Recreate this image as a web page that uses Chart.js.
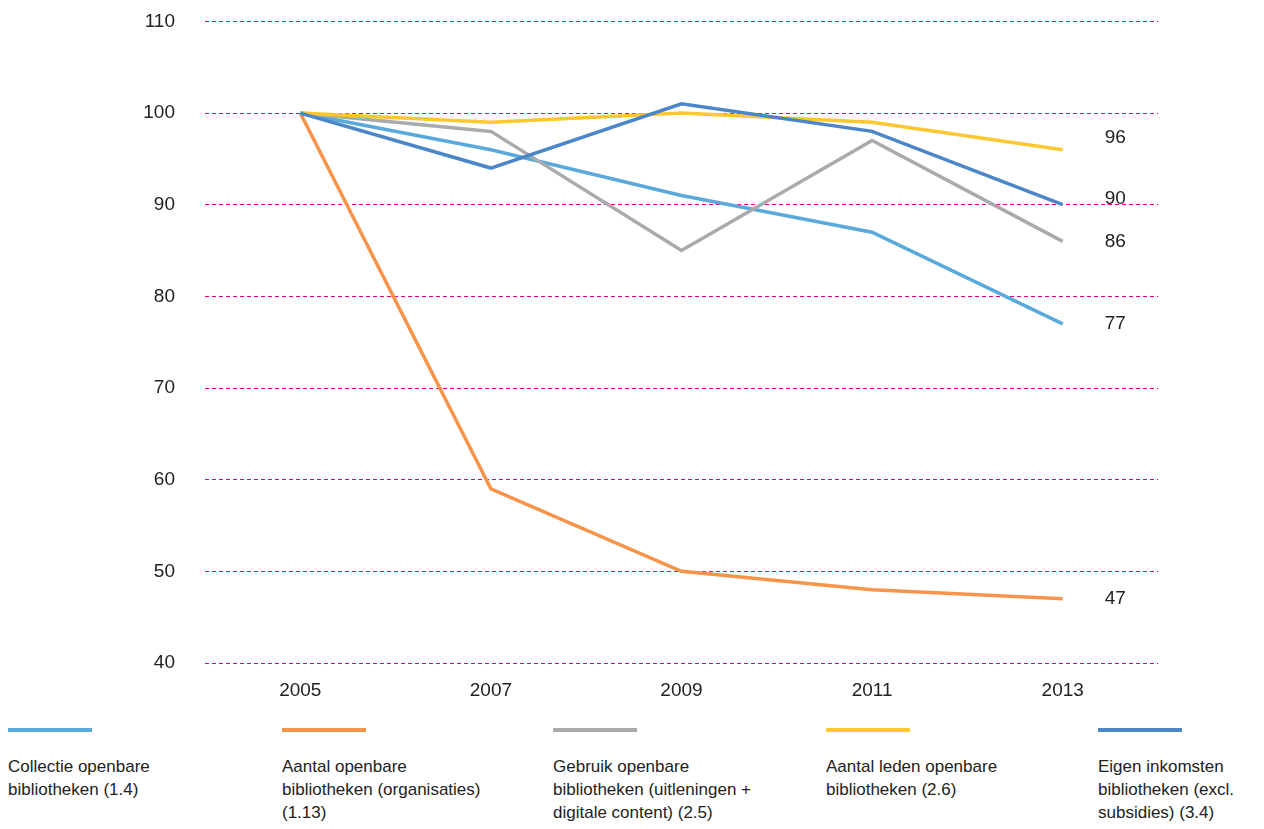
<!DOCTYPE html>
<html>
<head>
<meta charset="utf-8">
<script src="https://cdn.jsdelivr.net/npm/chart.js@4.4.1/dist/chart.umd.min.js"></script>
<style>
    body { margin: 0; background: #fff; font-family: "Liberation Sans", Arial, sans-serif; color: #222; overflow: hidden; }
    .container_chart { position: relative; width: 1264px; height: 730px; margin-top: -20px; }
    .legenda { position: relative; width: 1264px; height: 119px; }
    .item { position: absolute; top: 18px; width: 260px; }
    .item .lijn { width: 84px; height: 4px; }
    .item .tekst { margin-top: 23px; font-size: 17px; line-height: 23px; }
</style>
</head>
<body>
<div class="container_chart"><canvas id="myChart"></canvas></div>
<div class="legenda" id="legenda"></div>
<script>
const jaren = ['2005', '2007', '2009', '2011', '2013'];

const collectie = [100, 96, 91, 87, 77];
const aantalBibliotheken = [100, 59, 50, 48, 47];
const gebruik = [100, 98, 85, 97, 86];
const aantalLeden = [100, 99, 100, 99, 96];
const eigenInkomsten = [100, 94, 101, 98, 90];

const yTicks = [40, 50, 60, 70, 80, 90, 100, 110];

const reeksNamen = [
    ['Collectie openbare', 'bibliotheken (1.4)'],
    ['Aantal openbare', 'bibliotheken (organisaties)', '(1.13)'],
    ['Gebruik openbare', 'bibliotheken (uitleningen +', 'digitale content) (2.5)'],
    ['Aantal leden openbare', 'bibliotheken (2.6)'],
    ['Eigen inkomsten', 'bibliotheken (excl.', 'subsidies) (3.4)']
];

const kleuren = ['#5aa9dd', '#f7944a', '#a8abae', '#fdc82f', '#4a86c8'];
const reeksen = [collectie, aantalBibliotheken, gebruik, aantalLeden, eigenInkomsten];
// kleine verschuiving van de eindlabels zodat ze niet overlappen
const labelDy = [0, 0, 0, -12, -6];

const lettertype = '"Liberation Sans", Arial, sans-serif';

const eindLabels = {
    id: 'eindLabels',
    afterDatasetsDraw(chart) {
        const ctx = chart.ctx;
        ctx.save();
        ctx.font = '19px ' + lettertype;
        ctx.fillStyle = '#222';
        ctx.textAlign = 'left';
        ctx.textBaseline = 'middle';
        chart.data.datasets.forEach((ds, i) => {
            const meta = chart.getDatasetMeta(i);
            const p = meta.data[meta.data.length - 1];
            ctx.fillText(ds.data[ds.data.length - 1], p.x + 42, p.y + labelDy[i]);
        });
        ctx.restore();
    }
};

const ctx = document.getElementById('myChart');

new Chart(ctx, {
    type: 'line',
    data: {
        labels: jaren,
        datasets: reeksen.map((data, i) => ({
            label: reeksNamen[i].join(' '),
            data: data,
            borderColor: kleuren[i],
            backgroundColor: kleuren[i],
            borderWidth: 3.5,
            pointRadius: 0,
            tension: 0,
            order: 5 - i
        }))
    },
    options: {
        responsive: true,
        maintainAspectRatio: false,
        animation: false,
        layout: { padding: { top: 0, right: 106, left: 0, bottom: 0 } },
        plugins: {
            legend: { display: false },
            tooltip: { enabled: false }
        },
        scales: {
            x: {
                offset: true,
                grid: { display: false, drawTicks: false },
                border: { display: false },
                ticks: { color: '#222', font: { size: 19, family: lettertype }, padding: 16 },
                afterFit(scale) { scale.height = 47; }
            },
            y: {
                min: 40,
                max: 110,
                afterBuildTicks(scale) { scale.ticks = yTicks.map(v => ({ value: v })); },
                grid: { color: '#e6007e', lineWidth: 1, drawTicks: false },
                border: { display: false, dash: [4, 3] },
                ticks: { color: '#222', font: { size: 19, family: lettertype }, padding: 30 },
                afterFit(scale) { scale.width = 205; }
            }
        }
    },
    plugins: [eindLabels]
});

const legenda = document.getElementById('legenda');
const posities = [8, 282, 553, 826, 1098];
reeksNamen.forEach((naam, i) => {
    const item = document.createElement('div');
    item.className = 'item';
    item.style.left = posities[i] + 'px';
    item.innerHTML = '<div class="lijn" style="background:' + kleuren[i] + '"></div><div class="tekst">' + naam.join('<br>') + '</div>';
    legenda.appendChild(item);
});
</script>
</body>
</html>
